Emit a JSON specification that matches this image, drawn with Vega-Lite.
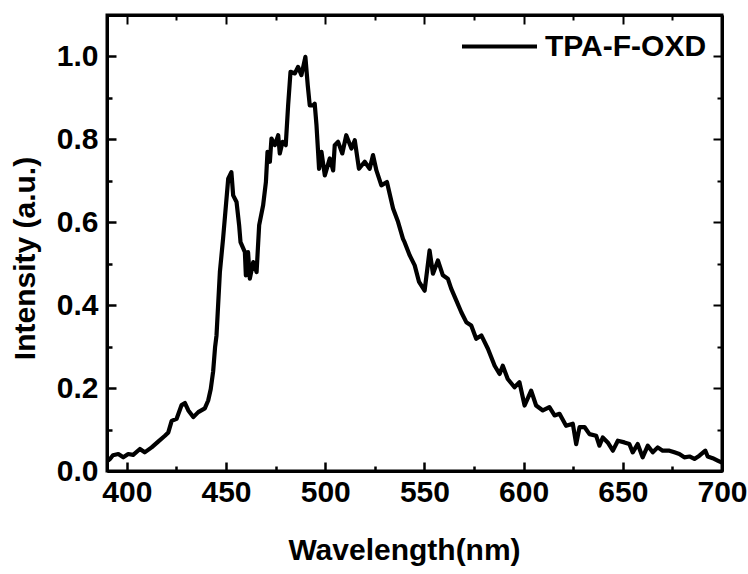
{
  "$schema": "https://vega.github.io/schema/vega-lite/v6.json",
  "width": 615,
  "height": 456,
  "autosize": {"type": "none"},
  "padding": {"left": 107, "top": 15, "right": 26, "bottom": 103},
  "background": "white",
  "config": {
    "view": {"stroke": "black", "strokeWidth": 3},
    "font": "Liberation Sans"
  },
  "data": {
    "values": [
      {"wl": 390.5, "intensity": 0.025}, {"wl": 391.5, "intensity": 0.029}, {"wl": 393, "intensity": 0.038},
      {"wl": 395.7, "intensity": 0.041}, {"wl": 398.2, "intensity": 0.033}, {"wl": 400.7, "intensity": 0.041},
      {"wl": 403.2, "intensity": 0.039}, {"wl": 406.6, "intensity": 0.053}, {"wl": 409, "intensity": 0.045},
      {"wl": 412.5, "intensity": 0.057}, {"wl": 415.8, "intensity": 0.071}, {"wl": 419.2, "intensity": 0.085},
      {"wl": 420.9, "intensity": 0.093}, {"wl": 422.6, "intensity": 0.121}, {"wl": 425.1, "intensity": 0.126},
      {"wl": 427.6, "intensity": 0.159}, {"wl": 429.3, "intensity": 0.164}, {"wl": 431, "intensity": 0.146},
      {"wl": 433.5, "intensity": 0.13}, {"wl": 436, "intensity": 0.142}, {"wl": 439.3, "intensity": 0.151},
      {"wl": 441, "intensity": 0.17}, {"wl": 442.3, "intensity": 0.198}, {"wl": 443.5, "intensity": 0.24},
      {"wl": 444.5, "intensity": 0.3}, {"wl": 445.2, "intensity": 0.327}, {"wl": 446.9, "intensity": 0.48},
      {"wl": 448.5, "intensity": 0.56}, {"wl": 451.1, "intensity": 0.705}, {"wl": 452.7, "intensity": 0.721},
      {"wl": 453.6, "intensity": 0.665}, {"wl": 455.3, "intensity": 0.649}, {"wl": 456.6, "intensity": 0.593},
      {"wl": 457.3, "intensity": 0.552}, {"wl": 459.5, "intensity": 0.528}, {"wl": 460, "intensity": 0.472},
      {"wl": 461.1, "intensity": 0.528}, {"wl": 462, "intensity": 0.464}, {"wl": 463.7, "intensity": 0.504},
      {"wl": 465.4, "intensity": 0.48}, {"wl": 466.7, "intensity": 0.593}, {"wl": 468.7, "intensity": 0.641},
      {"wl": 470.1, "intensity": 0.697}, {"wl": 470.9, "intensity": 0.77}, {"wl": 472.1, "intensity": 0.746},
      {"wl": 472.9, "intensity": 0.802}, {"wl": 474.6, "intensity": 0.786}, {"wl": 476.3, "intensity": 0.81},
      {"wl": 477.1, "intensity": 0.766}, {"wl": 478.5, "intensity": 0.794}, {"wl": 480.1, "intensity": 0.786},
      {"wl": 481.3, "intensity": 0.882}, {"wl": 482.5, "intensity": 0.963}, {"wl": 484.7, "intensity": 0.959},
      {"wl": 486.3, "intensity": 0.975}, {"wl": 488, "intensity": 0.955}, {"wl": 490, "intensity": 0.999},
      {"wl": 491.2, "intensity": 0.93}, {"wl": 492.2, "intensity": 0.882}, {"wl": 493.9, "intensity": 0.882},
      {"wl": 494.7, "intensity": 0.886}, {"wl": 495.6, "intensity": 0.834}, {"wl": 496.4, "intensity": 0.77},
      {"wl": 496.9, "intensity": 0.729}, {"wl": 498.1, "intensity": 0.77}, {"wl": 499.8, "intensity": 0.713},
      {"wl": 502.3, "intensity": 0.754}, {"wl": 504, "intensity": 0.725}, {"wl": 504.8, "intensity": 0.786},
      {"wl": 506.5, "intensity": 0.794}, {"wl": 508.6, "intensity": 0.766}, {"wl": 510.6, "intensity": 0.81},
      {"wl": 513.2, "intensity": 0.778}, {"wl": 514.9, "intensity": 0.798}, {"wl": 517, "intensity": 0.729},
      {"wl": 519.9, "intensity": 0.746}, {"wl": 522.4, "intensity": 0.729}, {"wl": 524.1, "intensity": 0.762},
      {"wl": 525.8, "intensity": 0.725}, {"wl": 528.3, "intensity": 0.689}, {"wl": 531.1, "intensity": 0.697},
      {"wl": 534.2, "intensity": 0.633}, {"wl": 536.7, "intensity": 0.601}, {"wl": 539.2, "intensity": 0.56},
      {"wl": 540, "intensity": 0.552}, {"wl": 542.6, "intensity": 0.52}, {"wl": 545.1, "intensity": 0.496},
      {"wl": 547.3, "intensity": 0.456}, {"wl": 550.1, "intensity": 0.435}, {"wl": 552.6, "intensity": 0.532},
      {"wl": 554.3, "intensity": 0.476}, {"wl": 556.8, "intensity": 0.508}, {"wl": 559.3, "intensity": 0.472},
      {"wl": 561.8, "intensity": 0.464}, {"wl": 563.5, "intensity": 0.44}, {"wl": 566.1, "intensity": 0.411},
      {"wl": 568.6, "intensity": 0.383}, {"wl": 571.1, "intensity": 0.359}, {"wl": 573.6, "intensity": 0.351},
      {"wl": 576.1, "intensity": 0.319}, {"wl": 578.7, "intensity": 0.327}, {"wl": 582, "intensity": 0.295},
      {"wl": 585.4, "intensity": 0.254}, {"wl": 587.9, "intensity": 0.234}, {"wl": 589.5, "intensity": 0.254},
      {"wl": 592, "intensity": 0.222}, {"wl": 595.4, "intensity": 0.202}, {"wl": 597.9, "intensity": 0.214},
      {"wl": 600.5, "intensity": 0.158}, {"wl": 603.8, "intensity": 0.194}, {"wl": 606.3, "intensity": 0.158},
      {"wl": 609.7, "intensity": 0.146}, {"wl": 613, "intensity": 0.154}, {"wl": 615.6, "intensity": 0.134},
      {"wl": 618.1, "intensity": 0.138}, {"wl": 621.4, "intensity": 0.109}, {"wl": 624.8, "intensity": 0.114},
      {"wl": 626.5, "intensity": 0.065}, {"wl": 628.2, "intensity": 0.106}, {"wl": 630.7, "intensity": 0.106},
      {"wl": 633.2, "intensity": 0.089}, {"wl": 636.6, "intensity": 0.085}, {"wl": 638.2, "intensity": 0.061},
      {"wl": 639.9, "intensity": 0.081}, {"wl": 642.4, "intensity": 0.069}, {"wl": 645, "intensity": 0.049},
      {"wl": 647.5, "intensity": 0.073}, {"wl": 650.8, "intensity": 0.069}, {"wl": 653.3, "intensity": 0.065},
      {"wl": 655, "intensity": 0.045}, {"wl": 657.5, "intensity": 0.065}, {"wl": 660, "intensity": 0.033},
      {"wl": 662.6, "intensity": 0.061}, {"wl": 665.1, "intensity": 0.045}, {"wl": 667.6, "intensity": 0.057},
      {"wl": 670.1, "intensity": 0.049}, {"wl": 673.5, "intensity": 0.049}, {"wl": 676, "intensity": 0.045},
      {"wl": 678.5, "intensity": 0.041}, {"wl": 681, "intensity": 0.033}, {"wl": 683.6, "intensity": 0.035},
      {"wl": 686.1, "intensity": 0.029}, {"wl": 688.6, "intensity": 0.037}, {"wl": 691.6, "intensity": 0.049},
      {"wl": 692.8, "intensity": 0.035}, {"wl": 695.3, "intensity": 0.031}, {"wl": 697.8, "intensity": 0.025},
      {"wl": 700, "intensity": 0.02}
    ]
  },
  "layer": [
    {
      "mark": {"type": "line", "strokeWidth": 4.2, "strokeJoin": "round"},
      "encoding": {
        "x": {
          "field": "wl", "type": "quantitative",
          "scale": {"domain": [390, 700], "nice": false, "zero": false},
          "axis": {
            "orient": "bottom",
            "values": [400, 425, 450, 475, 500, 525, 550, 575, 600, 625, 650, 675, 700],
            "format": "d",
            "labelExpr": "datum.value % 50 === 0 ? datum.label : ''",
            "tickSize": {"condition": {"test": "datum.value % 50 === 0", "value": -9}, "value": -5},
            "tickWidth": 2.5, "tickColor": "black",
            "domainColor": "black", "domainWidth": 3,
            "labelFontSize": 30, "labelFontWeight": "bold", "labelColor": "black",
            "labelPadding": 15, "labelFlush": false, "labelOverlap": false, "labelBound": false,
            "grid": false,
            "title": "Wavelength(nm)", "titleFontSize": 30, "titleFontWeight": "bold", "titleColor": "black",
            "titlePadding": 24, "titleX": 297
          }
        },
        "y": {
          "field": "intensity", "type": "quantitative",
          "scale": {"domain": [0, 1.1], "nice": false},
          "axis": {
            "orient": "left",
            "values": [0, 0.1, 0.2, 0.3, 0.4, 0.5, 0.6, 0.7, 0.8, 0.9, 1.0],
            "format": ".1f",
            "labelExpr": "round(datum.value * 10) % 2 === 0 ? datum.label : ''",
            "tickSize": {"condition": {"test": "round(datum.value * 10) % 2 === 0", "value": -9}, "value": -5},
            "tickWidth": 2.5, "tickColor": "black",
            "domainColor": "black", "domainWidth": 3,
            "labelFontSize": 30, "labelFontWeight": "bold", "labelColor": "black",
            "labelPadding": 18, "labelFlush": false, "labelOverlap": false, "labelBound": false,
            "grid": false,
            "title": "Intensity (a.u.)", "titleFontSize": 30, "titleFontWeight": "bold", "titleColor": "black",
            "titlePadding": 16, "titleY": 243
          }
        },
        "color": {
          "datum": "TPA-F-OXD",
          "scale": {"range": ["black"]},
          "legend": {
            "orient": "none", "legendX": 353, "legendY": -8,
            "title": null, "symbolType": "stroke", "symbolSize": 5625,
            "symbolStrokeWidth": 4, "symbolStrokeColor": "black",
            "labelFontSize": 30, "labelFontWeight": "bold", "labelColor": "black",
            "labelOffset": 6, "labelLimit": 400, "padding": 0
          }
        }
      }
    },
    {
      "mark": {"type": "line", "strokeOpacity": 0},
      "encoding": {
        "x": {
          "field": "wl", "type": "quantitative",
          "axis": {
            "orient": "top",
            "values": [400, 425, 450, 475, 500, 525, 550, 575, 600, 625, 650, 675, 700],
            "labels": false, "title": null, "grid": false,
            "tickSize": {"condition": {"test": "datum.value % 50 === 0", "value": -9}, "value": -5},
            "tickWidth": 2, "tickColor": "black",
            "domainColor": "black", "domainWidth": 3
          }
        },
        "y": {
          "field": "intensity", "type": "quantitative",
          "axis": {
            "orient": "right",
            "values": [0, 0.1, 0.2, 0.3, 0.4, 0.5, 0.6, 0.7, 0.8, 0.9, 1.0],
            "labels": false, "title": null, "grid": false,
            "tickSize": {"condition": {"test": "round(datum.value * 10) % 2 === 0", "value": -9}, "value": -5},
            "tickWidth": 2, "tickColor": "black",
            "domainColor": "black", "domainWidth": 3
          }
        }
      }
    }
  ],
  "resolve": {"axis": {"x": "independent", "y": "independent"}}
}
